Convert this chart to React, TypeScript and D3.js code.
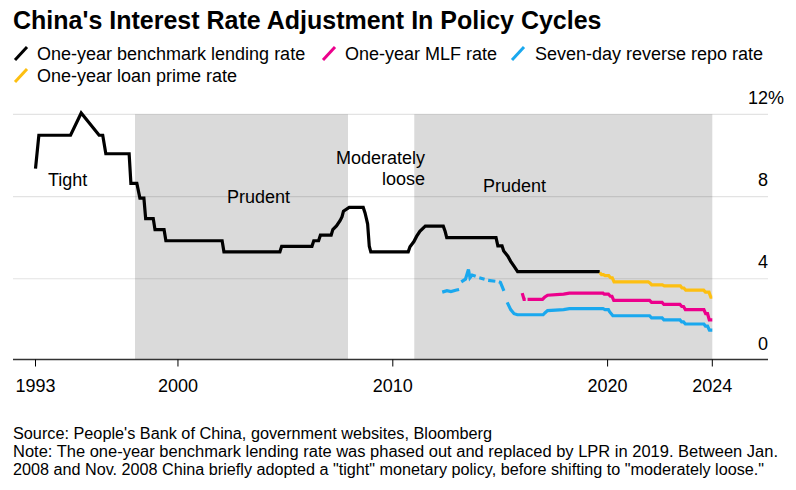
import React from "react";
import * as d3 from "d3";

const W = 796;
const H = 490;

// One-year benchmark lending rate (%)
const lendingDates: string[] = [
  "1993-05-15","1993-07-11","1995-01-01","1995-07-01","1996-05-01","1996-07-01","1996-08-23",
  "1997-09-23","1997-10-23","1998-02-01","1998-03-25","1998-06-01","1998-07-01","1998-11-07",
  "1998-12-07","1999-05-10","1999-06-10","2002-01-21","2002-02-21","2004-09-29","2004-10-29",
  "2006-03-28","2006-04-28","2006-07-19","2006-08-19","2007-02-18","2007-03-18","2007-05-19",
  "2007-07-21","2007-08-22","2007-09-15","2007-12-21","2008-08-16","2008-09-16","2008-10-09",
  "2008-10-30","2008-11-27","2008-12-23","2010-09-20","2010-10-20","2010-12-26","2011-02-09",
  "2011-04-06","2011-07-07","2012-05-08","2012-06-08","2012-07-06","2014-10-22","2014-11-22",
  "2015-02-01","2015-03-01","2015-05-11","2015-06-28","2015-08-26","2015-10-24","2019-08-20",
];
const lendingValues: number[] = [
  9.36,10.98,10.98,12.06,10.98,10.98,10.08,
  10.08,8.64,8.64,7.92,7.92,6.93,6.93,
  6.39,6.39,5.85,5.85,5.31,5.31,5.58,
  5.58,5.85,5.85,6.12,6.12,6.39,6.57,
  6.84,7.02,7.29,7.47,7.47,7.20,6.93,
  6.66,5.58,5.31,5.31,5.56,5.81,6.06,
  6.31,6.56,6.56,6.31,6.00,6.00,5.60,
  5.60,5.35,5.10,4.85,4.60,4.35,4.35,
];

// One-year loan prime rate (%)
const lprDates: string[] = [
  "2019-08-20","2019-09-20","2019-10-21","2019-11-20","2020-01-20","2020-02-20","2020-03-20",
  "2020-04-20","2021-11-22","2021-12-20","2022-01-20","2022-07-20","2022-08-22","2023-05-22",
  "2023-06-20","2023-07-20","2023-08-21","2024-06-20","2024-07-22","2024-09-20","2024-10-21","2024-11-15",
];
const lprValues: number[] = [
  4.31,4.20,4.20,4.15,4.15,4.05,4.05,
  3.85,3.85,3.80,3.70,3.70,3.65,3.65,
  3.55,3.55,3.45,3.45,3.35,3.35,3.10,3.10,
];

// One-year MLF rate (%), null = no operation
const mlfDates: string[] = [
  "2016-01-10","2016-02-10","2016-03-10","2016-03-25","2016-04-10","2016-12-20","2017-01-24",
  "2017-03-16","2017-12-14","2018-03-22","2019-10-15","2019-11-05","2020-01-15","2020-02-17",
  "2020-03-15","2020-04-15","2021-12-15","2022-01-17","2022-07-15","2022-08-15","2023-05-15",
  "2023-06-15","2023-07-15","2023-08-15","2024-06-25","2024-07-25","2024-08-26","2024-09-25","2024-11-15",
];
const mlfValues: (number | null)[] = [
  3.30,3.00,3.00,null,3.00,3.00,3.10,
  3.20,3.25,3.30,3.30,3.25,3.25,3.15,
  3.15,2.95,2.95,2.85,2.85,2.75,2.75,
  2.65,2.65,2.50,2.50,2.30,2.30,2.00,2.00,
];

// Seven-day reverse repo rate (%), null = no operation
const repoDates: string[] = [
  "2012-04-20","2012-07-10","2012-09-15","2012-12-20","2013-02-01","2013-02-20","2013-03-10",
  "2013-05-20","2013-07-10","2013-08-05","2013-09-10","2013-11-10","2013-12-10","2014-01-10",
  "2014-04-10","2014-05-10","2014-06-10","2014-10-10","2014-11-10","2014-12-10","2015-01-05",
  "2015-03-05","2015-03-25","2015-04-30","2015-06-28","2015-08-25","2015-10-20","2016-12-31",
  "2017-02-03","2017-03-16","2017-12-14","2018-03-22","2019-10-15","2019-11-18","2020-01-15",
  "2020-02-03","2020-03-30","2021-12-15","2022-01-17","2022-07-15","2022-08-15","2023-05-15",
  "2023-06-13","2023-07-15","2023-08-15","2024-06-25","2024-07-22","2024-08-26","2024-09-27","2024-11-15",
];
const repoValues: (number | null)[] = [
  3.35,3.42,3.38,3.45,3.48,null,3.85,
  3.98,4.45,4.05,4.18,4.12,null,4.05,
  3.98,null,3.92,3.88,null,3.85,3.82,
  3.41,null,2.85,2.50,2.30,2.25,2.25,
  2.35,2.45,2.50,2.55,2.55,2.50,2.50,
  2.40,2.20,2.20,2.10,2.10,2.00,2.00,
  1.90,1.90,1.80,1.80,1.70,1.70,1.50,1.50,
];

// Policy periods (shaded = prudent)
const shadeStarts: string[] = ["1998-01-01", "2011-01-01"];
const shadeEnds: string[] = ["2007-12-01", "2024-11-15"];

const xTickDates: string[] = ["1993-05-15", "2000-01-01", "2010-01-01", "2020-01-01", "2024-11-15"];
const xTickLabels: string[] = ["1993", "2000", "2010", "2020", "2024"];
const yTicks: number[] = [0, 4, 8, 12];

const legendLabels: string[] = [
  "One-year benchmark lending rate",
  "One-year MLF rate",
  "Seven-day reverse repo rate",
  "One-year loan prime rate",
];
const legendColors: string[] = ["#000000", "#ec008c", "#1aa8ee", "#fdbf11"];

const FONT = "'Liberation Sans', Arial, Helvetica, sans-serif";

const parse = d3.timeParse("%Y-%m-%d");
const toPts = (dates: string[], vals: (number | null)[]) =>
  dates.map((d, i) => ({ date: parse(d) as Date, v: vals[i] }));

export default function App() {
  const x = d3
    .scaleTime()
    .domain([parse("1993-05-15") as Date, parse("2024-11-15") as Date])
    .range([35.5, 712.3]);
  const y = d3.scaleLinear().domain([0, 12]).range([361, 114.3]);

  const line = d3
    .line<{ date: Date; v: number | null }>()
    .defined((d) => d.v != null)
    .x((d) => x(d.date))
    .y((d) => y(d.v as number));

  const series = [
    { pts: toPts(lendingDates, lendingValues), color: legendColors[0] },
    { pts: toPts(lprDates, lprValues), color: legendColors[3] },
    { pts: toPts(mlfDates, mlfValues), color: legendColors[1] },
    { pts: toPts(repoDates, repoValues), color: legendColors[2] },
  ];

  const legendPos = [
    { sx: 15, tx: 37, by: 60 },
    { sx: 323, tx: 345, by: 60 },
    { sx: 512, tx: 535, by: 60 },
    { sx: 15, tx: 37, by: 82 },
  ];

  const axisY = 359.5;

  return (
    <svg
      width={W}
      height={H}
      viewBox={`0 0 ${W} ${H}`}
      style={{ position: "absolute", left: 0, top: 0, background: "#fff" }}
      fontFamily={FONT}
    >
      <rect width={W} height={H} fill="#fff" />
      <text x={13} y={29} fontSize={25} fontWeight="bold" fill="#000">
        China's Interest Rate Adjustment In Policy Cycles
      </text>

      {legendLabels.map((lab, i) => (
        <g key={lab}>
          <line
            x1={legendPos[i].sx}
            y1={legendPos[i].by}
            x2={legendPos[i].sx + 12}
            y2={legendPos[i].by - 13}
            stroke={legendColors[i]}
            strokeWidth={3}
          />
          <text x={legendPos[i].tx} y={legendPos[i].by} fontSize={18} fill="#000">
            {lab}
          </text>
        </g>
      ))}

      {shadeStarts.map((s, i) => (
        <rect
          key={s}
          x={x(parse(s) as Date)}
          y={y(12)}
          width={x(parse(shadeEnds[i]) as Date) - x(parse(s) as Date)}
          height={axisY - y(12)}
          fill="#dadada"
        />
      ))}

      {yTicks
        .filter((t) => t > 0)
        .map((t) => (
          <line key={t} x1={13} x2={768} y1={y(t)} y2={y(t)} stroke="rgba(0,0,0,0.11)" strokeWidth={1.2} />
        ))}

      {yTicks.map((t) => {
        const ty = t === 0 ? axisY - 10 : y(t) - 10.5;
        return (
          <g key={t}>
            <text x={768} y={ty} fontSize={18} textAnchor="end" fill="#000">
              {t}
            </text>
            {t === 12 ? (
              <text x={768} y={ty} fontSize={18} fill="#000">%</text>
            ) : null}
          </g>
        );
      })}

      <text x={48} y={186} fontSize={18} fill="#000">Tight</text>
      <text x={227} y={203} fontSize={18} fill="#000">Prudent</text>
      <text x={425} y={164} fontSize={18} textAnchor="end" fill="#000">Moderately</text>
      <text x={425} y={185} fontSize={18} textAnchor="end" fill="#000">loose</text>
      <text x={483} y={192} fontSize={18} fill="#000">Prudent</text>

      {series.map((s, i) => (
        <path key={i} d={line(s.pts) || ""} fill="none" stroke={s.color} strokeWidth={3.2} />
      ))}

      <line x1={13} x2={768} y1={axisY} y2={axisY} stroke="#333" strokeWidth={1.6} />
      {xTickDates.map((d, i) => {
        const px = x(parse(d) as Date);
        return (
          <g key={d}>
            <line x1={px} x2={px} y1={axisY} y2={axisY + 7} stroke="#000" strokeWidth={1} />
            <text x={px} y={392} fontSize={18} textAnchor="middle" fill="#000">
              {xTickLabels[i]}
            </text>
          </g>
        );
      })}

      <g fontFamily="'Liberation Sans Narrow', 'Arial Narrow', 'Liberation Sans', Arial, sans-serif" fontSize={16} fill="#000">
        <text x={13} y={439} textLength={479} lengthAdjust="spacingAndGlyphs">
          Source: People's Bank of China, government websites, Bloomberg
        </text>
        <text x={13} y={457} textLength={765} lengthAdjust="spacingAndGlyphs">
          Note: The one-year benchmark lending rate was phased out and replaced by LPR in 2019. Between Jan.
        </text>
        <text x={13} y={475} textLength={751} lengthAdjust="spacingAndGlyphs">
          2008 and Nov. 2008 China briefly adopted a "tight" monetary policy, before shifting to "moderately loose."
        </text>
      </g>
    </svg>
  );
}
